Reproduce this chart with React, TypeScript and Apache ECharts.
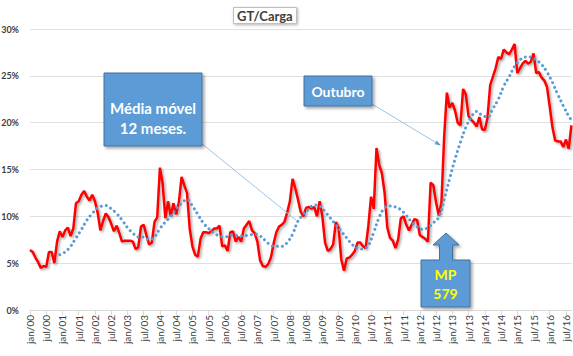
import React, { useEffect, useRef } from "react";
import * as echarts from "echarts";

const monthNames = ["jan", "fev", "mar", "abr", "mai", "jun", "jul", "ago", "set", "out", "nov", "dez"];
const startYear = 2000;
const monthCount = 201; // jan/00 .. set/16

// GT/Carga monthly values (%)
const gtCarga = [
  6.4, 6.2, 5.6, 5.1, 4.5, 4.7, 4.6, 6.2, 6.2, 5.0, 7.3, 8.4,
  7.8, 8.5, 8.8, 7.9, 8.7, 11.4, 11.6, 12.3, 12.7, 12.1, 11.7, 12.3,
  11.6, 10.4, 8.5, 9.5, 10.3, 9.9, 9.2, 8.4, 9.0, 8.2, 7.3, 7.4,
  7.4, 7.4, 7.3, 6.5, 6.7, 8.9, 9.1, 8.0, 7.0, 7.2, 9.4, 9.9,
  15.2, 13.5, 9.8, 11.6, 10.0, 11.4, 10.2, 11.5, 14.2, 13.3, 12.5, 8.7,
  6.8, 5.9, 5.7, 7.6, 8.3, 8.3, 8.2, 8.4, 8.7, 8.7, 9.0, 6.8,
  6.9, 6.3, 8.3, 8.4, 7.3, 7.8, 7.3, 8.7, 9.1, 9.5, 8.5, 8.2,
  7.3, 5.3, 4.7, 4.6, 4.9, 5.6, 7.1, 8.3, 8.9, 9.1, 9.4, 10.4,
  11.6, 14.0, 13.0, 11.8, 10.5, 10.0, 10.9, 11.0, 10.8, 11.0, 10.0, 11.6,
  10.0, 7.2, 6.3, 6.5, 7.0, 9.4, 8.8, 5.4, 4.2, 5.5, 5.6, 5.9,
  6.3, 7.2, 7.2, 6.8, 6.6, 9.0, 12.1, 10.8, 17.3, 15.5, 14.6, 12.5,
  8.8, 7.7, 7.4, 6.6, 7.5, 9.8, 10.0, 9.1, 8.5, 9.1, 9.7, 9.6,
  8.0, 7.8, 7.6, 7.3, 13.6, 13.3, 11.5, 10.1, 11.5, 18.5, 23.2, 21.6,
  22.1, 21.3, 20.0, 19.7, 23.6, 23.0, 20.7, 20.3, 20.0, 19.6, 20.6, 19.3,
  19.2, 20.5, 24.0, 24.9, 25.8, 27.0, 26.8, 27.8, 27.5, 27.3, 27.8, 28.4,
  25.3, 25.8, 26.3, 26.6, 26.3, 26.5, 27.4, 25.3, 25.4, 24.8, 24.5, 23.8,
  21.7, 19.5, 18.1, 18.0, 18.0, 17.4, 18.2, 17.2, 19.7,
];

// 12-month moving average at these month indices
const maMonths = [
  11, 13, 15, 17, 19, 21, 23, 25, 28, 30, 32, 34, 36, 38, 40, 42, 44, 46, 48, 50,
  52, 54, 56, 58, 60, 62, 64, 66, 68, 70, 72, 75, 78, 81, 83, 85, 87, 89, 91, 93,
  95, 97, 99, 101, 103, 105, 107, 109, 111, 113, 115, 117, 119, 121, 123, 125, 127, 129, 131, 133,
  135, 137, 139, 141, 143, 145, 147, 149, 151, 153, 155, 157, 159, 161, 163, 165, 167, 169, 171, 173,
  175, 177, 179, 181, 183, 185, 187, 189, 191, 193, 195, 197, 199, 200,
];
const maValues = [
  5.9, 6.2, 6.8, 7.7, 8.6, 9.6, 10.3, 10.9, 11.15, 10.8, 10.3, 9.6, 8.8, 8.2, 7.8, 7.8, 7.5, 7.8, 8.7, 9.4,
  10.0, 10.8, 11.4, 11.8, 11.1, 10.2, 9.3, 8.7, 8.2, 7.9, 7.8, 8.0, 7.9, 8.0, 8.1, 7.9, 7.4, 6.9, 6.8, 6.8,
  7.2, 8.1, 9.5, 10.2, 10.8, 11.2, 11.1, 10.5, 9.8, 9.1, 8.4, 7.7, 7.0, 6.6, 6.5, 6.9, 8.3, 9.9, 10.9, 11.1,
  11.0, 10.7, 10.1, 9.4, 8.9, 8.6, 8.8, 9.3, 9.9, 11.8, 14.0, 16.1, 17.9, 19.5, 20.6, 21.2, 20.8, 20.6, 21.5, 22.5,
  23.9, 24.9, 26.0, 26.7, 27.0, 27.0, 26.7, 26.2, 25.4, 24.3, 23.0, 21.8, 20.7, 20.3,
];

const yTicks = [0, 5, 10, 15, 20, 25, 30];

const categories: string[] = [];
for (let i = 0; i < monthCount; i++) {
  const y = startYear + Math.floor(i / 12);
  categories.push(monthNames[i % 12] + "/" + String(y % 100).padStart(2, "0"));
}

const maSeries: (number | null)[] = new Array(monthCount).fill(null);
maMonths.forEach((m, k) => {
  maSeries[m] = maValues[k];
});

const FONT = "Lato, 'Open Sans', sans-serif";
const BOX_FILL = "#5B9BD5";
const BOX_STROKE = "#41719C";
const boxShadow = {
  shadowColor: "rgba(0,0,0,0.35)",
  shadowBlur: 3,
  shadowOffsetX: 2,
  shadowOffsetY: 2,
};

export default function App() {
  const ref = useRef<HTMLDivElement>(null);

  useEffect(() => {
    document.body.style.margin = "0";
    if (!ref.current) return;
    const chart = echarts.init(ref.current, undefined, { renderer: "svg" });

    const option: any = {
      animation: false,
      backgroundColor: "#ffffff",
      title: {
        text: "GT/Carga",
        left: 233,
        top: 7,
        padding: [2, 4, 2, 4],
        borderColor: "#bfbfbf",
        borderWidth: 1,
        backgroundColor: "#ffffff",
        shadowColor: "rgba(0,0,0,0.3)",
        shadowBlur: 3,
        shadowOffsetX: 1,
        shadowOffsetY: 1,
        textStyle: { fontSize: 13, fontWeight: "bold", color: "#404040", fontFamily: FONT },
      },
      grid: { left: 30, right: 1.6, top: 29, bottom: 46, containLabel: false, outerBoundsMode: "none" },
      xAxis: {
        type: "category",
        data: categories,
        boundaryGap: false,
        axisLine: { show: true, lineStyle: { color: "#d9d9d9", width: 1 } },
        axisTick: { show: true, interval: 5, length: 5, lineStyle: { color: "#d9d9d9" } },
        axisLabel: {
          interval: 5,
          rotate: 90,
          margin: 5,
          fontSize: 10,
          color: "#404040",
          fontFamily: FONT,
        },
        splitLine: { show: false },
      },
      yAxis: {
        type: "value",
        min: yTicks[0],
        max: yTicks[yTicks.length - 1],
        interval: 5,
        axisLine: { show: false },
        axisTick: { show: false },
        axisLabel: {
          formatter: "{value}%",
          fontSize: 9,
          fontWeight: "bold",
          color: "#404040",
          margin: 11,
          fontFamily: FONT,
        },
        splitLine: { lineStyle: { color: "#e0e0e0", width: 1 } },
      },
      series: [
        {
          name: "GT/Carga",
          type: "line",
          data: gtCarga,
          symbol: "none",
          lineStyle: {
            color: "#FF0000",
            width: 2.5,
            shadowColor: "rgba(0,0,0,0.35)",
            shadowBlur: 2,
            shadowOffsetX: 1.5,
            shadowOffsetY: 1.5,
          },
          z: 3,
        },
        {
          name: "Média móvel 12 meses",
          type: "line",
          data: maSeries,
          connectNulls: true,
          smooth: 0.4,
          symbol: "none",
          lineStyle: { color: "#5B9BD5", width: 3, type: [0.01, 5], cap: "round" },
          z: 4,
        },
      ],
      graphic: [
        // connector lines
        {
          type: "line",
          z: 90,
          shape: { x1: 201, y1: 143, x2: 296, y2: 220 },
          style: { stroke: "#9DC3E6", lineWidth: 1 },
        },
        {
          type: "line",
          z: 90,
          shape: { x1: 372, y1: 104, x2: 440, y2: 145 },
          style: { stroke: "#9DC3E6", lineWidth: 1 },
        },
        {
          type: "polygon",
          z: 90,
          shape: { points: [[441, 145.6], [434.6, 144.2], [436.8, 140.6]] },
          style: { fill: "#5B9BD5" },
        },
        // Média móvel box
        {
          type: "rect",
          z: 100,
          shape: { x: 104, y: 73, width: 98, height: 73 },
          style: { fill: BOX_FILL, stroke: BOX_STROKE, lineWidth: 1, ...boxShadow },
        },
        {
          type: "text",
          z: 101,
          style: {
            x: 153, y: 108, text: "Média móvel", fill: "#ffffff",
            font: "bold 15px " + FONT,
            textAlign: "center", align: "center", textVerticalAlign: "middle", verticalAlign: "middle",
          },
        },
        {
          type: "text",
          z: 101,
          style: {
            x: 153, y: 128, text: "12 meses.", fill: "#ffffff",
            font: "bold 15px " + FONT,
            textAlign: "center", align: "center", textVerticalAlign: "middle", verticalAlign: "middle",
          },
        },
        // Outubro box
        {
          type: "rect",
          z: 100,
          shape: { x: 304, y: 76, width: 68, height: 30 },
          style: { fill: BOX_FILL, stroke: BOX_STROKE, lineWidth: 1, ...boxShadow },
        },
        {
          type: "text",
          z: 101,
          style: {
            x: 338, y: 91, text: "Outubro", fill: "#ffffff",
            font: "bold 14px " + FONT,
            textAlign: "center", align: "center", textVerticalAlign: "middle", verticalAlign: "middle",
          },
        },
        // MP 579 up-arrow callout
        {
          type: "polygon",
          z: 100,
          shape: {
            points: [
              [421, 260], [439.5, 260], [439.5, 245], [433, 245], [446, 233], [459, 245],
              [452.5, 245], [452.5, 260], [470, 260], [470, 307], [421, 307],
            ],
          },
          style: { fill: BOX_FILL, stroke: BOX_STROKE, lineWidth: 1, ...boxShadow },
        },
        {
          type: "text",
          z: 101,
          style: {
            x: 445.5, y: 274, text: "MP", fill: "#FFFF00",
            font: "bold 14px " + FONT,
            textAlign: "center", align: "center", textVerticalAlign: "middle", verticalAlign: "middle",
          },
        },
        {
          type: "text",
          z: 101,
          style: {
            x: 445.5, y: 293, text: "579", fill: "#FFFF00",
            font: "bold 14px " + FONT,
            textAlign: "center", align: "center", textVerticalAlign: "middle", verticalAlign: "middle",
          },
        },
      ],
    };

    chart.setOption(option);
    return () => chart.dispose();
  }, []);

  return <div ref={ref} style={{ width: 573, height: 356 }} />;
}
